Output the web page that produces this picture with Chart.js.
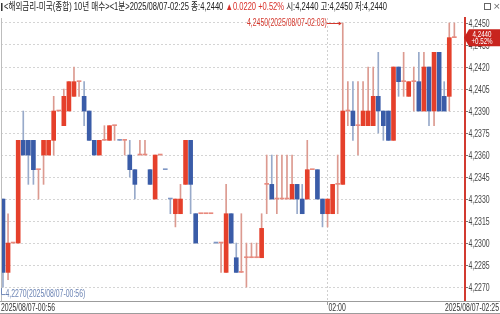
<!DOCTYPE html>
<html>
<head>
<meta charset="utf-8">
<script src="https://cdn.jsdelivr.net/npm/chart.js@4/dist/chart.umd.min.js"></script>
<style>
html, body { margin: 0; padding: 0; background: #fff; }
#wrap { position: relative; width: 500px; height: 314px; overflow: hidden; }
#c { position: absolute; left: 0; top: 0; }
#head { position: absolute; left: 1px; top: 1px; display: inline-block; white-space: nowrap;
        font: 10px "Liberation Sans", "Noto Sans CJK KR", sans-serif; color: #222; line-height: 12px;
        transform-origin: 0 0; z-index: 2; }
#head .up { color: #d9302a; }
#head .mk { display: inline-block; width: 2px; height: 8px; background: #333; margin-right: 2px; vertical-align: -1px; }
#icons { position: absolute; left: 484px; top: 3px; width: 16px; height: 8px; z-index: 3; }
#icons .bx { position: absolute; left: 0; top: 0; width: 5px; height: 5px; border: 1px solid #666; }
#icons .x { position: absolute; left: 9px; top: -2px; font: 9px "DejaVu Sans"; color: #666; }
</style>
</head>
<body>
<div id="wrap">
  <canvas id="c" width="500" height="314"></canvas>
  <div id="head"><span class="mk"></span>&lt;해외금리-미국(종합) 10년 매수&gt;&lt;1분&gt;2025/08/07-02:25 종:4,2440 <span class="up">▲0.0220 +0.52%</span> 시:4,2440 고:4,2450 저:4,2440</div>
  <div id="icons"><div class="bx"></div><div class="x">×</div></div>
</div>
<script>
// 1분봉 00:56 ~ 02:25
const times = [
  '00:56','00:57','00:58','00:59',
  '01:00','01:01','01:02','01:03','01:04','01:05','01:06','01:07','01:08','01:09',
  '01:10','01:11','01:12','01:13','01:14','01:15','01:16','01:17','01:18','01:19',
  '01:20','01:21','01:22','01:23','01:24','01:25','01:26','01:27','01:28','01:29',
  '01:30','01:31','01:32','01:33','01:34','01:35','01:36','01:37','01:38','01:39',
  '01:40','01:41','01:42','01:43','01:44','01:45','01:46','01:47','01:48','01:49',
  '01:50','01:51','01:52','01:53','01:54','01:55','01:56','01:57','01:58','01:59',
  '02:00','02:01','02:02','02:03','02:04','02:05','02:06','02:07','02:08','02:09',
  '02:10','02:11','02:12','02:13','02:14','02:15','02:16','02:17','02:18','02:19',
  '02:20','02:21','02:22','02:23','02:24','02:25'
];
const opens = [
  4.2330,4.2280,4.2300,4.2300,4.2370,4.2370,4.2370,4.2350,4.2360,4.2360,
  4.2370,4.2390,4.2380,4.2390,4.2400,4.2410,4.2400,4.2390,4.2370,4.2360,
  4.2370,4.2370,4.2380,4.2370,4.2370,4.2360,4.2350,4.2360,4.2360,4.2350,
  4.2330,4.2360,4.2350,4.2330,4.2320,4.2320,4.2340,4.2370,4.2320,4.2320,
  4.2320,4.2320,4.2300,4.2300,4.2280,4.2320,4.2290,4.2280,4.2290,4.2290,
  4.2290,4.2290,4.2340,4.2340,4.2330,4.2330,4.2330,4.2330,4.2340,4.2330,
  4.2330,4.2350,4.2350,4.2330,4.2320,4.2320,4.2340,4.2340,4.2390,4.2390,
  4.2380,4.2380,4.2380,4.2380,4.2400,4.2390,4.2390,4.2370,4.2420,4.2410,
  4.2400,4.2410,4.2410,4.2390,4.2420,4.2390,4.2430,4.2400,4.2400,4.2440
];
const highs = [
  4.2330,4.2320,4.2300,4.2370,4.2390,4.2370,4.2370,4.2350,4.2370,4.2370,
  4.2400,4.2390,4.2405,4.2410,4.2420,4.2410,4.2410,4.2390,4.2370,4.2370,
  4.2380,4.2380,4.2380,4.2370,4.2370,4.2370,4.2350,4.2370,4.2370,4.2350,
  4.2360,4.2360,4.2350,4.2330,4.2330,4.2340,4.2370,4.2370,4.2320,4.2320,
  4.2320,4.2320,4.2300,4.2300,4.2340,4.2320,4.2300,4.2320,4.2300,4.2300,
  4.2300,4.2320,4.2360,4.2360,4.2360,4.2360,4.2360,4.2360,4.2340,4.2340,
  4.2370,4.2350,4.2350,4.2330,4.2330,4.2340,4.2360,4.2450,4.2410,4.2410,
  4.2410,4.2410,4.2420,4.2420,4.2430,4.2390,4.2390,4.2420,4.2420,4.2430,
  4.2410,4.2420,4.2430,4.2430,4.2420,4.2430,4.2430,4.2410,4.2450,4.2450
];
const lows = [
  4.2270,4.2275,4.2300,4.2300,4.2360,4.2340,4.2340,4.2330,4.2340,4.2360,
  4.2360,4.2390,4.2380,4.2390,4.2400,4.2400,4.2380,4.2370,4.2360,4.2360,
  4.2370,4.2370,4.2370,4.2370,4.2360,4.2345,4.2330,4.2360,4.2360,4.2340,
  4.2330,4.2360,4.2350,4.2320,4.2311,4.2320,4.2340,4.2320,4.2300,4.2320,
  4.2320,4.2320,4.2300,4.2280,4.2280,4.2300,4.2280,4.2280,4.2270,4.2290,
  4.2290,4.2290,4.2320,4.2330,4.2320,4.2330,4.2330,4.2330,4.2320,4.2320,
  4.2330,4.2350,4.2330,4.2311,4.2311,4.2320,4.2320,4.2340,4.2380,4.2370,
  4.2360,4.2380,4.2380,4.2380,4.2375,4.2370,4.2370,4.2370,4.2400,4.2400,
  4.2400,4.2390,4.2390,4.2390,4.2380,4.2380,4.2390,4.2390,4.2390,4.2440
];
const closes = [
  4.2280,4.2300,4.2300,4.2370,4.2360,4.2360,4.2350,4.2350,4.2370,4.2370,
  4.2390,4.2390,4.2400,4.2410,4.2410,4.2410,4.2390,4.2370,4.2360,4.2370,
  4.2370,4.2380,4.2380,4.2370,4.2370,4.2350,4.2340,4.2360,4.2360,4.2340,
  4.2360,4.2360,4.2350,4.2330,4.2330,4.2330,4.2370,4.2340,4.2300,4.2320,
  4.2320,4.2320,4.2300,4.2300,4.2320,4.2300,4.2280,4.2280,4.2290,4.2290,
  4.2290,4.2310,4.2340,4.2330,4.2330,4.2330,4.2330,4.2340,4.2330,4.2320,
  4.2350,4.2350,4.2330,4.2320,4.2330,4.2340,4.2340,4.2390,4.2390,4.2380,
  4.2380,4.2390,4.2390,4.2400,4.2390,4.2380,4.2370,4.2420,4.2410,4.2410,
  4.2410,4.2410,4.2390,4.2420,4.2390,4.2430,4.2390,4.2390,4.2440,4.2440
];
const yTicks = [4.2270, 4.2285, 4.2300, 4.2315, 4.2330, 4.2345, 4.2360, 4.2375, 4.2390, 4.2405, 4.2420, 4.2435, 4.2450];
const xGridIdx = [64];
const bottomIdx = [0, 64, 89];
const bottomLabels = ['2025/08/07-00:56', '02:00', '2025/08/07-02:25'];
const datePrefix = '2025/08/07-';
const lastPrice = 4.2440;
const lastChange = '+0.52%';

const RED = '#e5402b', BLUE = '#3a5ca8';
const RED_W = '#dc9a90', BLUE_W = '#98aaca';
const SX = 0.69; // 글자 가로 압축

function isUp(i) {
  if (closes[i] !== opens[i]) return closes[i] > opens[i];
  return i === 0 || closes[i] >= closes[i - 1];
}
function bodyColor(i) {
  if (closes[i] === opens[i]) return isUp(i) ? '#e88a7e' : '#7f97c4';
  return isUp(i) ? RED : BLUE;
}
function fmt(v) { return v.toFixed(4).replace('.', ','); }

function sText(ctx, s, x, y, align) {
  ctx.save();
  ctx.translate(x, y);
  ctx.scale(SX, 1);
  ctx.textAlign = align;
  ctx.fillText(s, 0, 0);
  ctx.restore();
}

const hts = {
  id: 'hts',
  afterDraw(chart) {
    const { ctx, chartArea: a, scales: { x, y } } = chart;
    ctx.save();
    ctx.font = '10px "Liberation Sans"';
    ctx.textBaseline = 'middle';

    // 왼쪽 테두리
    ctx.strokeStyle = '#bdbdbd';
    ctx.lineWidth = 1;
    ctx.beginPath();
    ctx.moveTo(a.left + 0.5, a.top);
    ctx.lineTo(a.left + 0.5, a.bottom);
    ctx.stroke();

    // 오른쪽 가격축 라벨
    yTicks.forEach(v => {
      const py = Math.round(y.getPixelForValue(v)) + 0.5;
      ctx.strokeStyle = '#777';
      ctx.beginPath();
      ctx.moveTo(a.right + 1, py);
      ctx.lineTo(a.right + 3, py);
      ctx.stroke();
      ctx.fillStyle = '#444';
      sText(ctx, fmt(v), a.right + 3.5, py + 0.5, 'left');
    });

    // 현재가 박스
    const yc = y.getPixelForValue(lastPrice);
    ctx.fillStyle = '#c8241e';
    ctx.beginPath();
    ctx.moveTo(a.right - 1, yc);
    ctx.lineTo(a.right + 4, yc - 8.5);
    ctx.lineTo(500, yc - 8.5);
    ctx.lineTo(500, yc + 8.5);
    ctx.lineTo(a.right + 4, yc + 8.5);
    ctx.closePath();
    ctx.fill();
    ctx.fillStyle = '#fff';
    ctx.font = '9px "Liberation Sans"';
    sText(ctx, fmt(lastPrice), 482, yc - 3.5, 'center');
    sText(ctx, lastChange, 482, yc + 4, 'center');

    // 하단 시간축
    ctx.font = '10px "Liberation Sans"';
    ctx.strokeStyle = '#9c9c9c';
    ctx.strokeRect(-1, a.bottom + 0.5, 502, 12);
    ctx.fillStyle = '#333';
    bottomIdx.forEach((idx, k) => {
      const txt = bottomLabels[k];
      const ty = a.bottom + 7;
      if (k === 0) sText(ctx, txt, 1, ty, 'left');
      else if (k === bottomIdx.length - 1) sText(ctx, txt, 499, ty, 'right');
      else {
        const px = Math.round(x.getPixelForValue(idx)) - 0.5;
        ctx.beginPath();
        ctx.moveTo(px, a.bottom);
        ctx.lineTo(px, a.bottom + 4);
        ctx.stroke();
        sText(ctx, txt, px + 1, ty, 'left');
      }
    });

    // 최고가 표시
    const hi = highs.indexOf(Math.max(...highs));
    const hx = x.getPixelForValue(hi), hy = y.getPixelForValue(highs[hi]);
    ctx.strokeStyle = '#d4372c';
    ctx.fillStyle = '#d4372c';
    ctx.beginPath();
    ctx.moveTo(hx - 16, hy + 0.5);
    ctx.lineTo(hx - 2, hy + 0.5);
    ctx.stroke();
    ctx.beginPath();
    ctx.moveTo(hx - 1, hy + 0.5);
    ctx.lineTo(hx - 4, hy - 1.5);
    ctx.lineTo(hx - 4, hy + 2.5);
    ctx.closePath();
    ctx.fill();
    sText(ctx, fmt(highs[hi]) + '(' + datePrefix + times[hi] + ')', hx - 16, hy + 0.5, 'right');

    // 최저가 표시
    const lo = lows.indexOf(Math.min(...lows));
    const lx = Math.round(x.getPixelForValue(lo)) - 1.5, ly = y.getPixelForValue(lows[lo]);
    ctx.strokeStyle = '#7088b8';
    ctx.fillStyle = '#6c84b4';
    ctx.beginPath();
    ctx.moveTo(lx, ly + 1);
    ctx.lineTo(lx, ly + 7.5);
    ctx.lineTo(lx + 4, ly + 7.5);
    ctx.stroke();
    sText(ctx, fmt(lows[lo]) + '(' + datePrefix + times[lo] + ')', lx + 4, ly + 7.5, 'left');

    ctx.restore();
  }
};

new Chart(document.getElementById('c'), {
  type: 'bar',
  data: {
    datasets: [
      {
        label: 'wick',
        data: lows.map((l, i) => ({ x: i, y: [l, highs[i]] })),
        backgroundColor: c => isUp(c.dataIndex) ? RED_W : BLUE_W,
        barThickness: 1,
        grouped: false,
        order: 2
      },
      {
        label: 'body',
        data: opens.map((o, i) => ({ x: i, y: [o, closes[i]] })),
        backgroundColor: c => bodyColor(c.dataIndex),
        barThickness: 4,
        minBarLength: 1,
        grouped: false,
        order: 1
      }
    ]
  },
  options: {
    responsive: false,
    animation: false,
    events: [],
    layout: { padding: { top: 18, left: 1, right: 0, bottom: 0 } },
    plugins: { legend: { display: false }, tooltip: { enabled: false } },
    scales: {
      x: {
        type: 'linear', min: -0.39, max: 91.1, offset: false,
        afterFit: s => { s.height = 13; },
        afterBuildTicks: s => { s.ticks = xGridIdx.map(v => ({ value: v })); },
        ticks: { display: false },
        grid: { color: '#cfcfcf', offset: false, drawTicks: false },
        border: { display: false, dash: [2, 2] }
      },
      y: {
        position: 'right', min: 4.22605, max: 4.24534,
        afterFit: s => { s.width = 35; },
        afterBuildTicks: s => { s.ticks = yTicks.map(v => ({ value: v })); },
        ticks: { display: false },
        grid: { color: '#d4d4d4', drawTicks: false },
        border: { display: true, color: '#d23a30', width: 2, dash: [2, 2] }
      }
    }
  },
  plugins: [hts]
});

// 헤더 폭 맞춤
const head = document.getElementById('head');
head.style.transform = 'scaleX(' + (386 / head.scrollWidth) + ')';
</script>
</body>
</html>
